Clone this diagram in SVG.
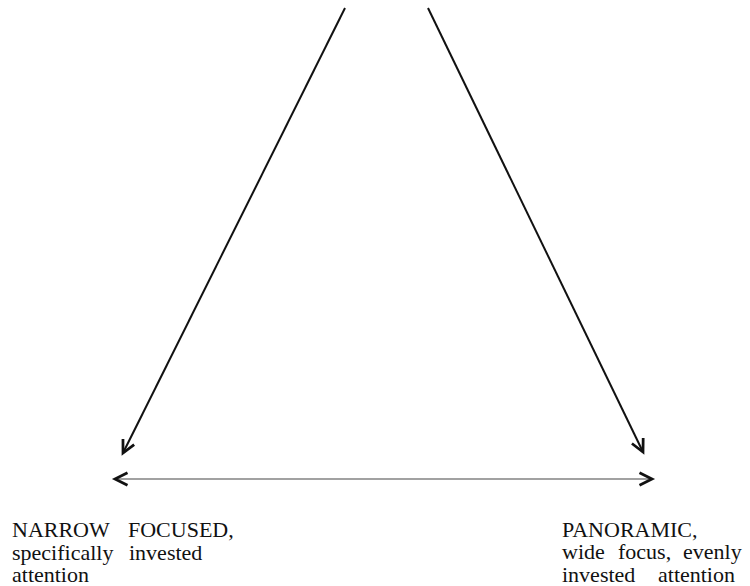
<svg xmlns="http://www.w3.org/2000/svg" width="750" height="586" viewBox="0 0 750 586">
  <defs>
    <style>
      .lbl { font-family: "Liberation Serif", "Times New Roman", serif; font-size: 22px; fill: #111; }
      .diag { stroke: #111; stroke-width: 2; fill: none; }
      .horiz { stroke: #444; stroke-width: 1.2; fill: none; }
    </style>
    <marker id="ah" markerUnits="userSpaceOnUse" markerWidth="20" markerHeight="20" viewBox="-12 -8 16 16" refX="0" refY="0" orient="auto-start-reverse">
      <path d="M -10 -5 L 0 0 L -10 5" stroke="#111" stroke-width="2.2" fill="none" stroke-linejoin="miter"/>
    </marker>
  </defs>
  <rect width="750" height="586" fill="#fff"/>
  <g id="connectors">
    <line class="diag" x1="345" y1="8" x2="123" y2="453" marker-end="url(#ah)"/>
    <line class="diag" x1="428" y1="8" x2="643" y2="452" marker-end="url(#ah)"/>
    <line class="horiz" x1="115" y1="479" x2="652" y2="479" marker-start="url(#ah)" marker-end="url(#ah)"/>
  </g>
  <g id="narrow">
    <text class="lbl" x="12" y="537">NARROW</text>
    <text class="lbl" x="128" y="537">FOCUSED,</text>
    <text class="lbl" x="12" y="560">specifically</text>
    <text class="lbl" x="129" y="560">invested</text>
    <text class="lbl" x="12" y="582">attention</text>
  </g>
  <g id="panoramic">
    <text class="lbl" x="562" y="537">PANORAMIC,</text>
    <text class="lbl" x="562" y="559">wide</text>
    <text class="lbl" x="618" y="559">focus,</text>
    <text class="lbl" x="683" y="559">evenly</text>
    <text class="lbl" x="562" y="582">invested</text>
    <text class="lbl" x="658" y="582">attention</text>
  </g>
</svg>
